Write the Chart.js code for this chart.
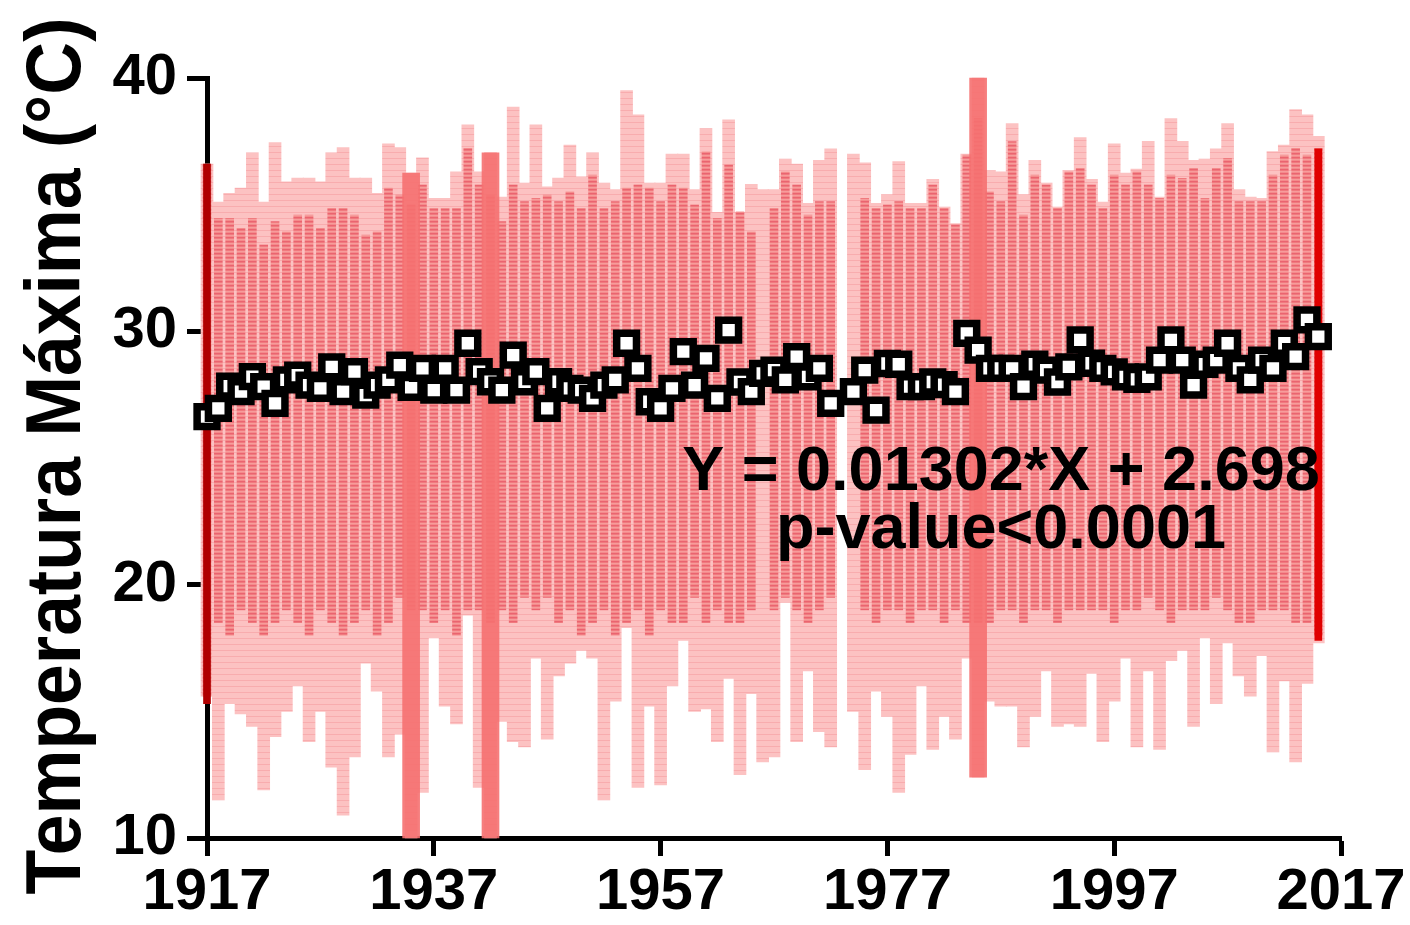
<!DOCTYPE html>
<html><head><meta charset="utf-8">
<script src="https://cdn.jsdelivr.net/npm/chart.js@4.4.1/dist/chart.umd.min.js"></script>
<style>html,body{margin:0;padding:0;background:#fff}#wrap{width:1410px;height:925px}</style>
</head><body><div id="wrap"><canvas id="c" width="1410" height="925"></canvas></div>
<script>
const years = [1917,1918,1919,1920,1921,1922,1923,1924,1925,1926,1927,1928,1929,1930,1931,1932,1933,1934,1935,1936,
1937,1938,1939,1940,1941,1942,1943,1944,1945,1946,1947,1948,1949,1950,1951,1952,1953,1954,1955,1956,
1957,1958,1959,1960,1961,1962,1963,1964,1965,1966,1967,1968,1969,1970,1971,1972,1973,1974,1975,1976,
1977,1978,1979,1980,1981,1982,1983,1984,1985,1986,1987,1988,1989,1990,1991,1992,1993,1994,1995,1996,
1997,1998,1999,2000,2001,2002,2003,2004,2005,2006,2007,2008,2009,2010,2011,2012,2013,2014,2015];
const maxTemp = [36.6,35.1,35.45,35.65,37.05,35.1,37.45,35.9,36.05,36.05,35.9,37.05,37.25,36.05,36.05,35.45,37.4,37.25,36.25,36.85,
35.25,35.25,36.3,38.15,36.3,37.05,35.3,38.85,35.85,38.15,35.7,36.05,37.35,36.1,37.05,35.85,35.6,39.5,38.55,35.85,
35.85,37.0,37.0,35.6,38.0,34.7,38.35,34.7,35.8,35.6,35.6,36.8,36.6,35.05,36.75,37.2,null,37.0,36.65,35.05,
35.4,36.7,35.05,35.05,36.0,34.9,34.25,37.0,40.0,36.35,36.3,38.2,35.4,36.75,35.85,34.9,36.35,37.65,36.0,35.1,
37.4,36.25,36.4,37.5,35.3,38.4,37.5,36.75,36.8,37.2,38.2,35.6,35.3,35.25,37.1,37.35,38.75,38.55,37.7];
const minTemp = [15.6,11.5,15.3,14.9,14.4,11.9,14.0,15.0,16.0,13.8,15.0,12.8,10.9,13.2,16.9,15.8,13.2,14.1,10.0,11.8,
17.9,15.2,14.5,18.8,12.0,10.0,14.6,13.8,13.6,17.1,13.9,16.4,16.9,17.4,17.1,11.5,15.4,18.3,12.0,15.2,
12.1,16.0,17.8,15.0,15.1,13.8,16.3,12.5,15.7,13.0,13.2,19.3,13.8,16.6,14.2,13.6,null,15.0,12.7,15.8,
14.8,11.8,13.3,16.0,13.5,14.8,13.9,17.1,12.4,15.4,15.2,15.2,13.6,14.8,16.6,14.4,14.5,14.4,16.5,13.8,
15.4,17.1,13.6,16.6,13.5,17.0,17.4,14.4,17.9,15.3,17.7,16.4,15.6,17.2,13.4,16.2,13.0,16.1,17.7];
const denseHigh = [36.6,34.46,34.46,34.07,34.46,33.41,34.33,33.93,34.59,34.59,34.07,34.86,34.86,34.59,33.8,33.93,35.65,35.38,34.99,35.78,
34.86,34.86,34.86,37.22,35.78,35.38,34.33,35.78,35.12,35.25,35.38,35.12,35.51,34.86,36.17,34.86,35.12,35.65,35.78,35.65,
35.12,35.78,35.65,34.99,37.09,34.46,36.57,34.72,33.93,null,34.86,36.3,35.78,34.59,35.12,35.12,null,null,35.25,34.86,
34.99,35.12,34.86,34.86,35.78,34.86,34.2,36.96,38.41,35.51,35.12,37.49,34.59,36.17,35.78,34.86,36.3,36.43,35.78,34.86,
36.17,35.78,36.3,35.78,35.25,36.17,36.04,36.43,35.25,36.43,36.83,35.12,35.12,35.12,36.17,36.96,37.22,36.96,37.22];
const denseLow = [15.6,18.5,18.0,19.0,18.5,18.0,18.5,19.0,18.5,18.0,19.0,18.5,18.0,18.5,19.0,18.0,18.5,19.5,19.0,19.0,
18.5,19.0,18.0,19.0,19.0,18.5,19.0,18.5,19.5,19.0,19.5,18.5,19.0,18.0,18.5,19.0,18.0,18.5,19.0,18.0,
19.0,18.5,18.5,19.5,18.5,19.0,18.5,18.5,19.0,null,19.0,19.5,19.0,18.5,19.0,19.5,null,null,19.0,18.5,
19.0,19.0,18.5,19.0,19.0,18.5,19.0,18.5,18.5,18.5,19.0,19.0,18.5,19.0,19.0,18.5,19.0,19.0,19.0,19.0,
18.5,19.0,19.0,19.5,19.0,18.5,19.0,19.0,19.0,19.5,19.0,18.5,18.5,19.0,19.0,19.0,18.5,18.5,18.0];
const meanTemp = [26.63,26.96,27.84,27.62,28.21,27.82,27.16,28.08,28.27,27.88,27.75,28.6,27.62,28.41,27.48,27.88,28.08,28.67,27.79,28.54,
27.68,28.54,27.68,29.53,28.41,28.01,27.68,29.06,28.01,28.41,26.96,28.01,27.75,27.68,27.35,27.88,28.08,29.53,28.54,27.22,
26.96,27.75,29.2,27.88,28.93,27.35,30.05,28.0,27.62,28.34,28.47,28.08,29.0,28.2,28.54,27.16,null,27.62,28.47,26.89,
28.73,28.7,27.82,27.82,28.0,27.9,27.62,29.92,29.26,28.54,28.54,28.54,27.82,28.7,28.47,28.0,28.6,29.66,28.74,28.54,
28.4,28.2,28.1,28.2,28.86,29.66,28.86,27.88,28.7,28.86,29.53,28.54,28.08,28.86,28.54,29.53,29.0,30.45,29.79];
const hlWideYears = [1935, 1942, 1985];
const hlWideLow = [10, 10, 12.4];
const hlWideHigh = [36.25, 37.05, 40];
const hlNarrowYears = [1917, 2015];
const hlNarrowLow = [15.3, 17.8];
const hlNarrowHigh = [36.6, 37.2];
const xTickValues = [1917, 1937, 1957, 1977, 1997, 2017];
const yTickValues = [10, 20, 30, 40];
const yTitle = 'Temperatura Máxima (°C)';
const eqText = 'Y = 0.01302*X + 2.698';
const pText = 'p-value<0.0001';

const FAM = '"Liberation Sans", Arial, Helvetica, sans-serif';

function makePattern(rows){
  const c = document.createElement('canvas'); c.width = 1; c.height = rows.length;
  const g = c.getContext('2d');
  rows.forEach((col,i)=>{ g.fillStyle = col; g.fillRect(0,i,1,1); });
  return document.createElement('canvas').getContext('2d').createPattern(c,'repeat');
}
const densePattern = makePattern(['#f48b8b','#ea6470','#f07a7e','#f69c9c']);
const lightPattern = makePattern(['#fcc2c2','#fcc2c2','#f8acae','#fcc2c2','#fcc2c2','#fcc2c2']);

const rangeData = (xs, lo, hi) => xs.map((x,i)=> (lo[i]==null||hi[i]==null) ? {x:x, y:null} : {x:x, y:[lo[i],hi[i]]});

const textPlugin = {
  id: 'texts',
  afterDraw(chart){
    const ctx = chart.ctx;
    ctx.save();
    ctx.fillStyle = '#000';
    ctx.font = 'bold 63px ' + FAM;
    ctx.textAlign = 'center';
    ctx.textBaseline = 'alphabetic';
    ctx.fillText(eqText, 1001, 490);
    ctx.fillText(pText, 1001, 548);
    ctx.translate(80, 456);
    ctx.rotate(-Math.PI/2);
    ctx.font = 'bold 78px ' + FAM;
    const w = ctx.measureText(yTitle).width;
    ctx.scale(877 / w, 1);
    ctx.textAlign = 'center';
    ctx.fillText(yTitle, 0, 0);
    ctx.restore();
  }
};

new Chart(document.getElementById('c'), {
  type: 'bar',
  data: {
    datasets: [
      { type:'line', data: years.map((x,i)=>({x:x, y:meanTemp[i]})), showLine:false,
        pointStyle:'rect', pointRadius:14, pointBorderWidth:7.5, pointBackgroundColor:'#ffffff',
        pointBorderColor:'#000000', order:0, clip:false },
      { data: rangeData(hlNarrowYears, hlNarrowLow, hlNarrowHigh), backgroundColor:['#b00000','#e00000'],
        barThickness:7, grouped:false, order:1, clip:false },
      { data: rangeData(hlWideYears, hlWideLow, hlWideHigh), backgroundColor:'rgba(245,112,112,0.9)',
        barThickness:17, grouped:false, order:2, clip:false },
      { data: rangeData(years, denseLow, denseHigh), backgroundColor: densePattern,
        barThickness:8, grouped:false, order:3, clip:false },
      { data: rangeData(years, minTemp, maxTemp), backgroundColor: lightPattern,
        barThickness:12, grouped:false, order:4, clip:false }
    ]
  },
  options: {
    responsive:false, animation:false, devicePixelRatio:1,
    layout:{ padding:{ left:0, top:78, right:69, bottom:0 } },
    plugins:{ legend:{display:false}, tooltip:{enabled:false}, title:{display:false} },
    scales:{
      x:{ type:'linear', min:1917, max:2017, offset:false, z:1,
        afterBuildTicks: s => { s.ticks = xTickValues.map(v=>({value:v})); },
        afterFit: s => { s.height = 87; },
        grid:{ display:true, offset:false, drawOnChartArea:false, drawTicks:true, tickLength:18, tickWidth:5, tickColor:'#000' },
        border:{ display:true, width:5, color:'#000' },
        ticks:{ font:{family:FAM, size:58, weight:'bold'}, color:'#000', padding:2, maxRotation:0, autoSkip:false,
          callback: v => String(v) } },
      y:{ type:'linear', min:10, max:40, z:1,
        afterBuildTicks: s => { s.ticks = yTickValues.map(v=>({value:v})); },
        afterFit: s => { s.width = 207; },
        grid:{ display:true, offset:false, drawOnChartArea:false, drawTicks:true, tickLength:20, tickWidth:5, tickColor:'#000' },
        border:{ display:true, width:5, color:'#000' },
        ticks:{ font:{family:FAM, size:58, weight:'bold'}, color:'#000', padding:10,
          callback: v => String(v) } }
    }
  },
  plugins:[textPlugin]
});
</script>
</body></html>
